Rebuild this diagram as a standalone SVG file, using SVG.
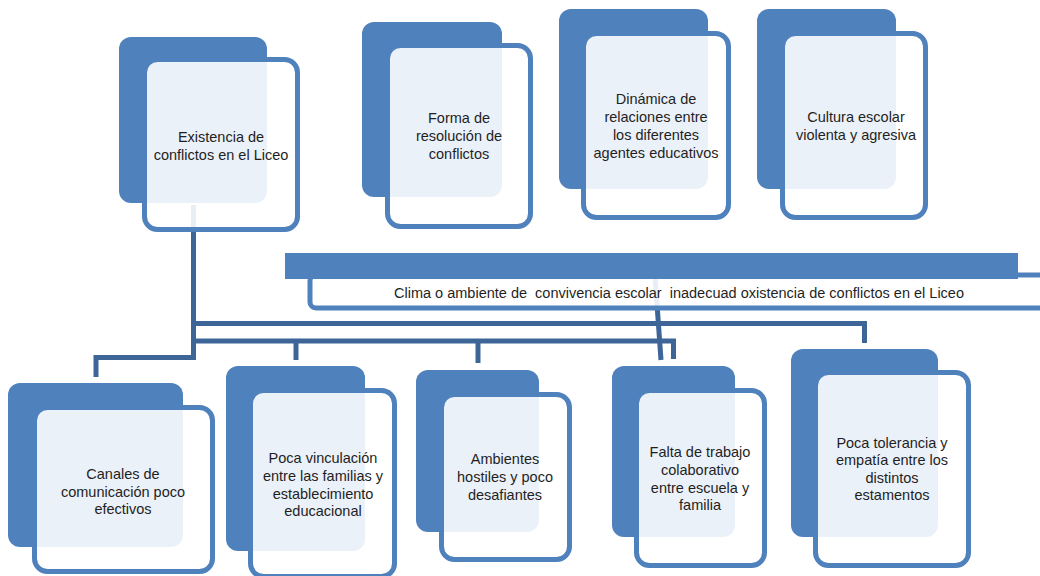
<svg xmlns="http://www.w3.org/2000/svg" width="1040" height="576" viewBox="0 0 1040 576">
<style>
.dark{fill:#4F81BD;}
.outline{fill:#FFFFFF;fill-opacity:0.89;stroke:#4F81BD;stroke-width:5;}
.lbl{font-family:"Liberation Sans",Arial,sans-serif;font-size:14.5px;fill:#1F1F1F;text-anchor:middle;}
.ban{font-family:"Liberation Sans",Arial,sans-serif;font-size:14px;fill:#1F1F1F;text-anchor:middle;white-space:pre;}
.conn{fill:none;stroke:#3D6597;stroke-width:5;}
</style>
<rect width="1040" height="576" fill="#FFFFFF"/>
<g id="connectors">
<path class="conn" d="M193.5,205 V357.5 H96 V377"/>
<path class="conn" d="M193.5,323.5 H864.5 V343"/>
<path class="conn" d="M193.5,341 H673.5 V359"/>
<path class="conn" d="M296,341 V360"/>
<path class="conn" d="M478,341 V363"/>
<path class="conn" d="M655,276 L661,360"/>
</g>
<g id="banner">
<rect class="outline" x="310" y="275" width="760" height="33" rx="6" stroke-width="4"/>
<rect class="dark" x="285" y="253" width="733" height="26"/>
<text class="ban" x="679" y="298" textLength="570" lengthAdjust="spacingAndGlyphs">Clima o ambiente de  convivencia escolar  inadecuad oxistencia de conflictos en el Liceo</text>
</g>
<g id="n1">
<rect class="dark" x="119" y="37" width="148" height="166" rx="12"/>
<rect class="outline" x="144.5" y="59.5" width="153" height="170" rx="13"/>
<text class="lbl"><tspan x="221" y="142">Existencia de</tspan><tspan x="221" y="160">conflictos en el Liceo</tspan></text>
</g>
<g id="n2">
<rect class="dark" x="362" y="22" width="140" height="175" rx="12"/>
<rect class="outline" x="387.5" y="45.5" width="143" height="181" rx="13"/>
<text class="lbl"><tspan x="459" y="123">Forma de</tspan><tspan x="459" y="141">resolución de</tspan><tspan x="459" y="159">conflictos</tspan></text>
</g>
<g id="n3">
<rect class="dark" x="559" y="9" width="149" height="180" rx="12"/>
<rect class="outline" x="583.5" y="33.5" width="145" height="184" rx="13"/>
<text class="lbl"><tspan x="656" y="104">Dinámica de</tspan><tspan x="656" y="122">relaciones entre</tspan><tspan x="656" y="140">los diferentes</tspan><tspan x="656" y="158">agentes educativos</tspan></text>
</g>
<g id="n4">
<rect class="dark" x="757" y="9" width="139" height="180" rx="12"/>
<rect class="outline" x="782.5" y="33.5" width="143" height="184" rx="13"/>
<text class="lbl"><tspan x="856" y="122">Cultura escolar</tspan><tspan x="856" y="140">violenta y agresiva</tspan></text>
</g>
<g id="n5">
<rect class="dark" x="8" y="383" width="175" height="164" rx="12"/>
<rect class="outline" x="34.5" y="407.5" width="178" height="164" rx="13"/>
<text class="lbl"><tspan x="123" y="479">Canales de</tspan><tspan x="123" y="497">comunicación poco</tspan><tspan x="123" y="514">efectivos</tspan></text>
</g>
<g id="n6">
<rect class="dark" x="226" y="366" width="139" height="185" rx="12"/>
<rect class="outline" x="250.5" y="390.5" width="144" height="186" rx="13"/>
<text class="lbl"><tspan x="323" y="463">Poca vinculación</tspan><tspan x="323" y="481">entre las familias y</tspan><tspan x="323" y="499">establecimiento</tspan><tspan x="323" y="516">educacional</tspan></text>
</g>
<g id="n7">
<rect class="dark" x="416" y="370" width="123" height="162" rx="12"/>
<rect class="outline" x="441.5" y="394.5" width="128" height="165" rx="13"/>
<text class="lbl"><tspan x="505" y="464">Ambientes</tspan><tspan x="505" y="482">hostiles y poco</tspan><tspan x="505" y="500">desafiantes</tspan></text>
</g>
<g id="n8">
<rect class="dark" x="612" y="366" width="123" height="171" rx="12"/>
<rect class="outline" x="636.5" y="390.5" width="128" height="175" rx="13"/>
<text class="lbl"><tspan x="700" y="457">Falta de trabajo</tspan><tspan x="700" y="475">colaborativo</tspan><tspan x="700" y="493">entre escuela y</tspan><tspan x="700" y="510">familia</tspan></text>
</g>
<g id="n9">
<rect class="dark" x="791" y="349" width="147" height="188" rx="12"/>
<rect class="outline" x="815.5" y="372.5" width="153" height="193" rx="13"/>
<text class="lbl"><tspan x="892" y="448">Poca tolerancia y</tspan><tspan x="892" y="465">empatía entre los</tspan><tspan x="892" y="483">distintos</tspan><tspan x="892" y="500">estamentos</tspan></text>
</g>
</svg>
